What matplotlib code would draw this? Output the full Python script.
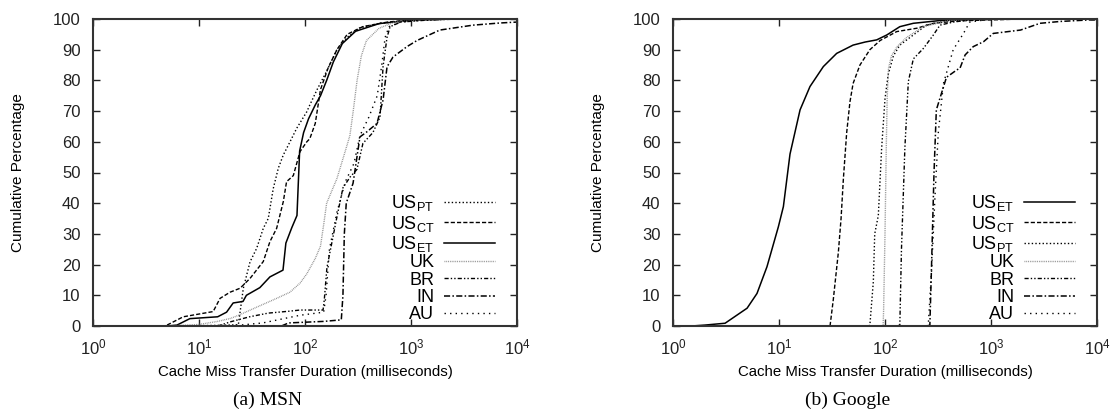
import matplotlib
matplotlib.use("Agg")
import matplotlib.pyplot as plt
from matplotlib.ticker import FixedLocator, LogFormatterMathtext, NullLocator

plt.rcParams['font.family'] = ['Liberation Sans', 'DejaVu Sans']
plt.rcParams['mathtext.default'] = 'regular'

# ---------------- MSN data (ms, cumulative %) ----------------
msn_uspt_x = [5, 15, 23.5, 26.2, 30.3, 35, 40.4, 45, 50.2, 56, 62.4, 72.2, 83.5, 104, 111, 130, 160, 200, 250, 320, 500, 1000, 2500]
msn_uspt_y = [0, 0.2, 0.4, 12.3, 20.9, 25.3, 31.8, 35, 44.8, 51.4, 55.7, 60, 64.4, 69.8, 72, 77, 83, 90, 94, 97, 98.6, 99.5, 100]

msn_usct_x = [5, 7.1, 13.6, 15.8, 19.6, 24.4, 30.3, 40.4, 46.7, 54, 62.4, 67, 77.6, 89.7, 104, 111, 125, 140, 165, 200, 250, 350, 600, 1000, 2000]
msn_usct_y = [0.3, 3, 4.7, 9, 11, 12.3, 15.5, 21, 27.5, 31.8, 40.5, 47, 49, 56.8, 60, 61, 66, 77, 84, 90, 95, 97.5, 99, 99.7, 100]

msn_uset_x = [5, 6.2, 8.2, 15, 18.2, 21, 26, 28, 37.5, 46.7, 62, 66, 75, 84, 89, 97, 108, 125, 140, 160, 185, 225, 300, 500, 1000, 2500]
msn_uset_y = [0, 0.3, 2.4, 3, 4.5, 7.5, 8, 10, 12.5, 16, 18.2, 27, 32, 36, 57, 63, 67.5, 72, 75, 80, 86, 92, 96, 98.5, 99.6, 100]

msn_uk_x = [5, 10, 15, 20, 24, 37, 54, 72, 90, 104, 125, 140, 150, 160, 200, 240, 265, 285, 310, 340, 380, 500, 700, 1500, 3000]
msn_uk_y = [0, 0.5, 1.5, 2.5, 3.6, 6.5, 9, 11, 14, 17, 22, 26, 33, 40, 48, 57, 62, 70, 80, 88, 93, 97, 99, 99.8, 100]

msn_br_x = [15, 20, 30, 45, 70, 90, 148, 152, 161, 200, 228, 266, 309, 352, 437, 510, 545, 594, 635, 800, 1500, 3000]
msn_br_y = [0, 1.4, 3, 4.2, 4.8, 5.2, 5.2, 8.5, 19, 35.5, 45, 48.5, 51, 59.5, 63, 68, 84.5, 94, 97.5, 99, 99.7, 100]

msn_in_x = [60, 70, 150, 220, 228, 235, 245, 284, 330, 385, 478, 545, 594, 676, 916, 1140, 1870, 3850, 6900, 10000]
msn_in_y = [0, 1, 1.5, 2, 10, 30, 40, 46.5, 61.6, 63.3, 66, 73.6, 84.4, 87.6, 91, 93, 96.4, 98, 98.7, 99]

msn_au_x = [20, 40, 90, 150, 158, 170, 200, 240, 290, 330, 400, 480, 530, 570, 620, 800, 1500, 3000]
msn_au_y = [0, 1, 3.5, 4.5, 10, 25, 37, 47, 53, 62, 68, 75, 85, 94, 97.5, 99, 99.8, 100]

# ---------------- Google data ----------------
g_uset_x = [1.5, 2, 3.1, 5, 6.2, 7.7, 9.86, 11, 12.7, 15.8, 19.6, 26.2, 35, 50, 65, 83.5, 104, 138, 185, 330, 500, 1000]
g_uset_y = [0, 0.3, 0.9, 5.8, 10.6, 19.3, 32.3, 38.9, 56, 70.4, 78, 84.5, 88.8, 91.5, 92.5, 93.2, 94.8, 97.5, 98.6, 99.5, 99.7, 100]

g_usct_x = [30.3, 32.5, 36.3, 38.5, 40.5, 43.5, 46.7, 50, 58, 72, 90, 129, 200, 286, 500, 1000, 2000]
g_usct_y = [0, 8.5, 24, 35, 48, 63, 73, 79, 85, 90, 93, 95.9, 97, 98.6, 99.4, 99.7, 100]

g_uspt_x = [70, 72, 77.6, 80, 86.5, 93, 100, 107, 120, 138, 185, 246, 400, 800]
g_uspt_y = [0, 0.3, 14.4, 30, 36, 58, 74, 81.8, 88, 91.5, 94.8, 98, 99.5, 100]

g_uk_x = [94, 96, 97, 100, 103, 105, 108, 115, 130, 160, 230, 400, 800]
g_uk_y = [0, 0.3, 5, 30, 60, 75, 84, 88, 91, 94, 97.5, 99.5, 100]

g_br_x = [130, 138, 143, 154, 166, 185, 230, 286, 330, 440, 600, 1000]
g_br_y = [0, 0.3, 25, 58, 79.6, 87, 90.4, 94.8, 98, 99, 99.6, 100]

g_in_x = [250, 265, 275, 290, 305, 380, 475, 510, 570, 680, 850, 1050, 1900, 2900, 4500, 8500, 10000]
g_in_y = [0, 0.3, 20, 50, 70.4, 81, 83.4, 84, 88.3, 91, 92.6, 95.3, 96.4, 98.6, 99.2, 99.7, 99.7]

g_au_x = [245, 256, 276, 295, 318, 356, 440, 550, 630, 1000]
g_au_y = [0, 0.3, 19, 41, 62.8, 79, 90, 95.3, 99, 100]

yticks = [0, 10, 20, 30, 40, 50, 60, 70, 80, 90, 100]
xticks = [1, 10, 100, 1000, 10000]

# ---------------- styles ----------------
STY = {
    'US_PT': dict(color='black', ls=(0, (1, 1.6)), lw=1.0),
    'US_CT': dict(color='black', ls=(0, (3, 1.5)), lw=1.0),
    'US_ET': dict(color='black', ls='-', lw=1.1),
    'UK':    dict(color='#8a8a8a', ls=(0, (0.6, 0.7)), lw=1.0),
    'BR':    dict(color='black', ls=(0, (3, 1.5, 1, 1.5, 1, 1.5)), lw=1.0),
    'IN':    dict(color='black', ls=(0, (4, 1.5, 1, 1.5)), lw=1.1),
    'AU':    dict(color='black', ls=(0, (1, 3)), lw=1.0),
}
LABEL = {'US_PT': 'US$_{PT}$', 'US_CT': 'US$_{CT}$', 'US_ET': 'US$_{ET}$',
         'UK': 'UK', 'BR': 'BR', 'IN': 'IN', 'AU': 'AU'}

fig = plt.figure(figsize=(11.12, 4.17), dpi=100)
W, H = 1112.0, 417.0
axL = fig.add_axes([93 / W, (H - 326) / H, 424 / W, 307 / H])
axR = fig.add_axes([673 / W, (H - 326) / H, 424 / W, 307 / H])

msn_series = [('US_PT', msn_uspt_x, msn_uspt_y), ('US_CT', msn_usct_x, msn_usct_y),
              ('US_ET', msn_uset_x, msn_uset_y), ('UK', msn_uk_x, msn_uk_y),
              ('BR', msn_br_x, msn_br_y), ('IN', msn_in_x, msn_in_y), ('AU', msn_au_x, msn_au_y)]
g_series = [('US_ET', g_uset_x, g_uset_y), ('US_CT', g_usct_x, g_usct_y),
            ('US_PT', g_uspt_x, g_uspt_y), ('UK', g_uk_x, g_uk_y),
            ('BR', g_br_x, g_br_y), ('IN', g_in_x, g_in_y), ('AU', g_au_x, g_au_y)]

for ax, series in ((axL, msn_series), (axR, g_series)):
    for key, xs, ys in series:
        ax.plot(xs, ys, label=LABEL[key], **STY[key])
    ax.set_xscale('log')
    ax.set_xlim(1, 10000)
    ax.set_ylim(0, 100)
    ax.xaxis.set_major_locator(FixedLocator(xticks))
    ax.xaxis.set_minor_locator(NullLocator())
    ax.xaxis.set_major_formatter(LogFormatterMathtext())
    ax.set_yticks(yticks)
    ax.tick_params(direction='in', length=5, width=1.0, top=True, right=True,
                   labelsize=12, colors='#222222', pad=9)
    ax.tick_params(axis='x', pad=8)
    for sp in ax.spines.values():
        sp.set_linewidth(1.5)
        sp.set_color('#333333')
    ax.set_ylabel('Cumulative Percentage', fontsize=11, labelpad=20)
    ax.set_xlabel('Cache Miss Transfer Duration (milliseconds)', fontsize=10.8, labelpad=6)
    leg = ax.legend(loc='lower right', frameon=False, markerfirst=False,
                    handlelength=2.8, handletextpad=0.55, labelspacing=0.02,
                    fontsize=13, borderaxespad=0.0, bbox_to_anchor=(0.965, -0.015))
    for t in leg.get_texts():
        t.set_ha('right')

fig.text(268 / W, 1 - 400 / H, '(a) MSN', ha='center', va='center',
         fontsize=14, family='Liberation Serif')
fig.text(848 / W, 1 - 400 / H, '(b) Google', ha='center', va='center',
         fontsize=14, family='Liberation Serif')

fig.savefig('out.png', dpi=100)
